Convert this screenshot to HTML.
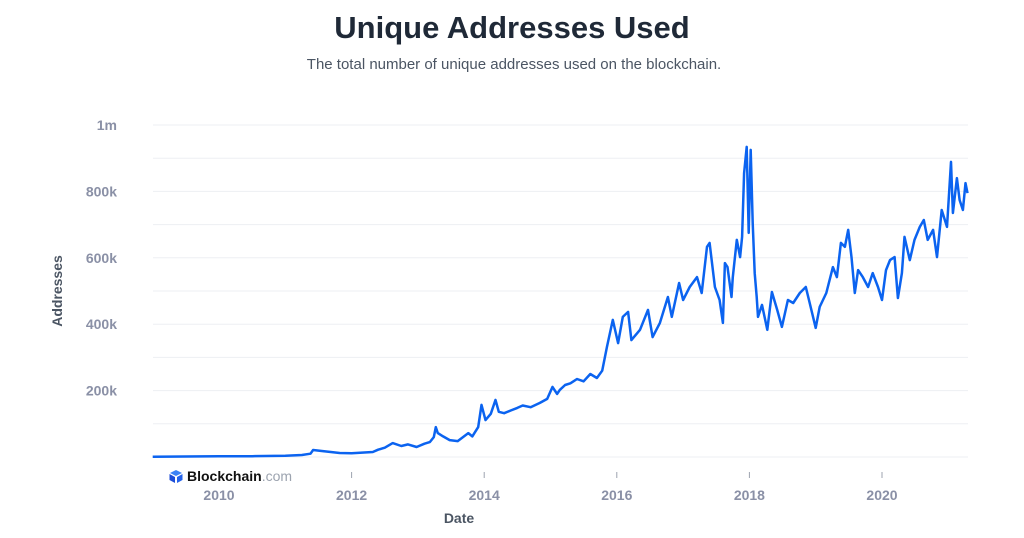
<!DOCTYPE html>
<html><head><meta charset="utf-8"><style>
body{margin:0;background:#fff;width:1024px;height:533px;overflow:hidden;font-family:"Liberation Sans",sans-serif}
</style></head><body>
<svg id="chart" width="1024" height="533" xmlns="http://www.w3.org/2000/svg">
<text x="512" y="38" text-anchor="middle" font-size="31" font-weight="bold" fill="#1f2937">Unique Addresses Used</text>
<text x="514" y="69" text-anchor="middle" font-size="15" fill="#4b5563">The total number of unique addresses used on the blockchain.</text>
<text transform="translate(62,291) rotate(-90)" text-anchor="middle" font-size="14" font-weight="bold" fill="#4b5563">Addresses</text>
<text x="459" y="523" text-anchor="middle" font-size="14" font-weight="bold" fill="#4b5563">Date</text>
<g id="grid"></g><g id="ticks"></g><g id="series"></g>
<g>
<path d="M176 470 l6 3 -6 3 -6 -3z" fill="#3b82f6"/><path d="M169.5 474 l5.5 3 v6 l-5.5 -3z" fill="#1d4ed8"/><path d="M182.5 474 l-5.5 3 v6 l5.5 -3z" fill="#2563eb"/>
<text x="187" y="481" font-size="14" font-weight="bold" fill="#111">Blockchain<tspan fill="#9ca3af" font-weight="normal">.com</tspan></text>
</g>
</svg>
<script>
const yTicks=[200,400,600,800,1000];
const yTickLabels=["200k","400k","600k","800k","1m"];
const xTicks=[2010,2012,2014,2016,2018,2020];
const dates=[2009.0,2009.5,2010.0,2010.5,2011.0,2011.25,2011.38,2011.42,2011.55,2011.82,2012.0,2012.32,2012.4,2012.5,2012.62,2012.75,2012.85,2012.98,2013.1,2013.18,2013.24,2013.27,2013.3,2013.38,2013.48,2013.6,2013.68,2013.76,2013.82,2013.91,2013.96,2014.02,2014.1,2014.17,2014.22,2014.3,2014.4,2014.5,2014.58,2014.7,2014.84,2014.95,2015.03,2015.1,2015.14,2015.22,2015.3,2015.4,2015.5,2015.6,2015.7,2015.78,2015.85,2015.94,2016.02,2016.09,2016.17,2016.22,2016.35,2016.47,2016.54,2016.65,2016.77,2016.83,2016.94,2017.0,2017.1,2017.21,2017.28,2017.36,2017.4,2017.48,2017.55,2017.6,2017.63,2017.67,2017.73,2017.75,2017.81,2017.86,2017.89,2017.92,2017.96,2017.99,2018.02,2018.05,2018.08,2018.11,2018.13,2018.19,2018.27,2018.34,2018.42,2018.49,2018.58,2018.66,2018.76,2018.85,2018.91,2019.0,2019.06,2019.16,2019.26,2019.32,2019.38,2019.44,2019.49,2019.54,2019.59,2019.64,2019.71,2019.79,2019.86,2019.94,2020.0,2020.06,2020.12,2020.19,2020.24,2020.3,2020.34,2020.42,2020.49,2020.57,2020.63,2020.69,2020.77,2020.83,2020.9,2020.98,2021.04,2021.07,2021.13,2021.17,2021.22,2021.26,2021.29];
const values=[1,1.5,2,2.5,4,6,10,21,18,12,11,15,22,28,42,33,38,30,40,45,60,90,72,62,51,48,60,72,62,90,157,111,130,172,136,132,140,148,155,150,163,175,211,190,202,217,222,235,228,250,238,260,331,413,343,422,437,352,383,443,361,404,482,422,524,473,512,542,494,633,645,512,473,404,584,572,482,542,654,602,663,855,934,675,925,705,554,482,422,458,383,497,443,392,473,464,494,512,464,389,452,494,572,542,645,633,684,602,494,563,542,512,554,512,473,563,593,602,479,554,663,593,654,693,714,654,684,602,744,693,889,735,840,774,744,825,795];
const X0=153,X1=968,Y0=457,PX=33.2/100;
function xs(d){return 219+(d-2010)*66.3;}
function ys(v){return Y0-v*PX;}
const ns="http://www.w3.org/2000/svg";
const grid=document.getElementById('grid'),ticks=document.getElementById('ticks'),series=document.getElementById('series');
for(let v=0;v<=1000;v+=100){const l=document.createElementNS(ns,'line');


l.setAttribute('x1',X0);l.setAttribute('x2',X1);l.setAttribute('y1',ys(v));l.setAttribute('y2',ys(v));l.setAttribute('stroke','#edeff3');l.setAttribute('stroke-width','1');grid.appendChild(l);}
yTicks.forEach((v,i)=>{const t=document.createElementNS(ns,'text');


t.setAttribute('x',117);t.setAttribute('y',ys(v)+5);t.setAttribute('text-anchor','end');t.setAttribute('font-size','14');t.setAttribute('font-weight','bold');t.setAttribute('fill','#8a90a6');t.textContent=yTickLabels[i];ticks.appendChild(t);});
xTicks.forEach(d=>{const x=xs(d);
if(d>2010){const l=document.createElementNS(ns,'line');


l.setAttribute('x1',x);l.setAttribute('x2',x);l.setAttribute('y1',472);l.setAttribute('y2',478);l.setAttribute('stroke','#9ca3af');ticks.appendChild(l);}
const t=document.createElementNS(ns,'text');


t.setAttribute('x',x);t.setAttribute('y',500);t.setAttribute('text-anchor','middle');t.setAttribute('font-size','14');t.setAttribute('font-weight','bold');t.setAttribute('fill','#8a90a6');t.textContent=d;ticks.appendChild(t);});
const p=document.createElementNS(ns,'path');


p.setAttribute('d',dates.map((d,i)=>(i?'L':'M')+xs(d).toFixed(1)+' '+ys(values[i]).toFixed(1)).join(' '));
p.setAttribute('fill','none');p.setAttribute('stroke','#0b63f0');p.setAttribute('stroke-width','2.5');p.setAttribute('stroke-linejoin','round');
series.appendChild(p);
</script>
</body></html>
